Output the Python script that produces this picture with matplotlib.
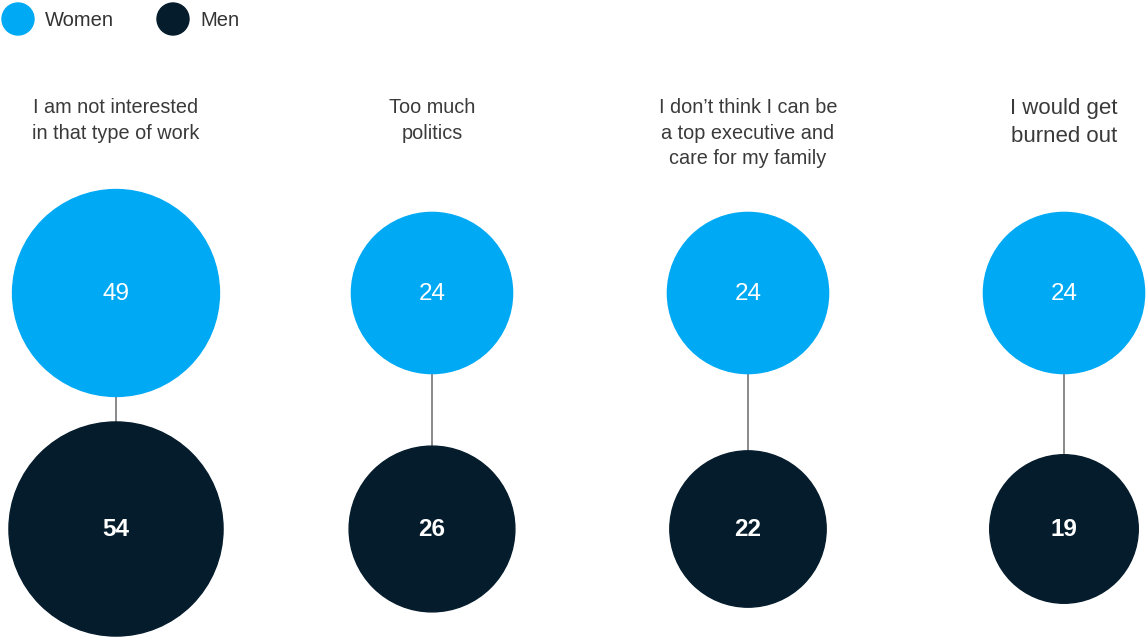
import matplotlib.pyplot as plt
from matplotlib.patches import Circle

# data
reasons = ["I am not interested\nin that type of work",
           "Too much\npolitics",
           "I don\u2019t think I can be\na top executive and\ncare for my family",
           "I would get\nburned out"]
women = [49, 24, 24, 24]
men = [54, 26, 22, 19]

BLUE = "#00A9F4"
NAVY = "#051C2C"

plt.rcParams['font.family'] = ['Liberation Sans', 'DejaVu Sans']

fig = plt.figure(figsize=(11.47, 6.41), dpi=100)
ax = fig.add_axes([0, 0, 1, 1])
ax.set_xlim(0, 1147)
ax.set_ylim(641, 0)
ax.axis("off")


def radius(v):
    # power scale for circle size (pixels)
    return 26.5 * v ** 0.35


x0, step = 116, 316
y_w, y_m = 293, 529

for i, (lab, w, m) in enumerate(zip(reasons, women, men)):
    x = x0 + i * step
    ax.plot([x, x], [y_w, y_m], color="#808080", lw=1.3, zorder=1)
    ax.add_patch(Circle((x, y_w), radius(w), color=BLUE, zorder=2))
    ax.add_patch(Circle((x, y_m), radius(m), color=NAVY, zorder=2))
    ax.text(x, y_w + 1, str(w), color="white", fontsize=17.5, ha="center", va="center", zorder=3)
    ax.text(x, y_m + 1, str(m), color="white", fontsize=17.5, fontweight="bold",
            ha="center", va="center", zorder=3)
    fs = 16 if i == 3 else 14.3
    ax.text(x, 98, lab, color="#3a3a3a", fontsize=fs, ha="center", va="top",
            linespacing=1.45)

# legend
ax.add_patch(Circle((18, 19), 16, color=BLUE))
ax.text(45, 20, "Women", fontsize=14.5, color="#333333", va="center")
ax.add_patch(Circle((173, 19), 16, color=NAVY))
ax.text(200, 20, "Men", fontsize=14.5, color="#333333", va="center")

fig.savefig("out.png", dpi=100)
